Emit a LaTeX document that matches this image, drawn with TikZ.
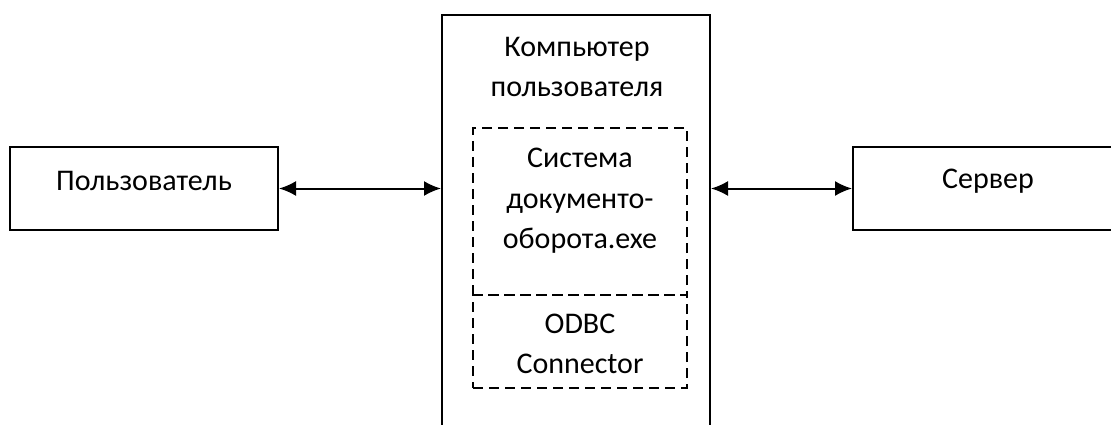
\documentclass[tikz,border=0pt]{standalone}
\usepackage{fontspec}
\setmainfont{Carlito}
\usetikzlibrary{arrows.meta}
\tikzset{
  box/.style={draw,line width=2pt,rectangle,inner sep=0pt},
  dbox/.style={draw,line width=1.8pt,dash pattern=on 10pt off 6pt,rectangle,inner sep=0pt},
  txt/.style={align=center,inner sep=0pt,font=\fontsize{30}{40.5}\selectfont},
  link/.style={line width=2pt,{Latex[length=17pt,width=15pt]}-{Latex[length=17pt,width=15pt]}}
}
\begin{document}
\begin{tikzpicture}[x=1pt,y=-1pt]
                \useasboundingbox (0,0) rectangle (1111,425);
                \node[box,minimum width=268pt,minimum height=83pt] (user) at (144,188.5) {};
                \node[txt] (usertext) at (144,181) {Пользователь};
                \node[box,minimum width=268pt,minimum height=440pt] (pc) at (576,235) {};
                \node[txt] (pctext) at (577,67) {Компьютер\\пользователя};
                \node[dbox,minimum width=214pt,minimum height=167pt] (app) at (580,211.5) {};
                \node[txt] (apptext) at (580,201) {Система\\документо-\\оборота.exe};
                \node[dbox,minimum width=214pt,minimum height=93pt] (odbc) at (580,341.5) {};
                \node[txt] (odbctext) at (580,344) {ODBC\\Connector};
                \node[box,minimum width=268pt,minimum height=83pt] (server) at (987,188.5) {};
                \node[txt] (servertext) at (988,181) {Сервер};
                \draw[link] (user.east) -- (user.east -| pc.west);
                \draw[link] (server.west -| pc.east) -- (server.west);
            \end{tikzpicture}
\end{document}
